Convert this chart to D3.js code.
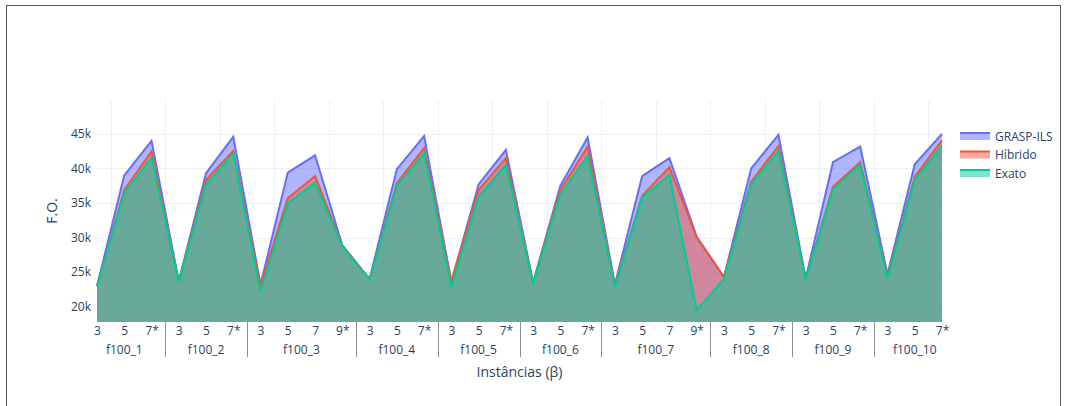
<!DOCTYPE html>
<html>
<head>
<meta charset="utf-8">
<script src="https://cdn.jsdelivr.net/npm/d3@7"></script>
<style>
  body { margin: 0; background: #fff; }
  svg { display: block; font-family: "Open Sans", verdana, arial, sans-serif; }
</style>
</head>
<body>
<svg id="chart" width="1067" height="406"></svg>
<script>
// ---------------- data ----------------
const instanceLabels = [
  "f100_1","f100_1","f100_1",
  "f100_2","f100_2","f100_2",
  "f100_3","f100_3","f100_3","f100_3",
  "f100_4","f100_4","f100_4",
  "f100_5","f100_5","f100_5",
  "f100_6","f100_6","f100_6",
  "f100_7","f100_7","f100_7","f100_7",
  "f100_8","f100_8","f100_8",
  "f100_9","f100_9","f100_9",
  "f100_10","f100_10","f100_10"
];
const betaLabels = [
  "3","5","7*",
  "3","5","7*",
  "3","5","7","9*",
  "3","5","7*",
  "3","5","7*",
  "3","5","7*",
  "3","5","7","9*",
  "3","5","7*",
  "3","5","7*",
  "3","5","7*"
];
const graspIls = [23000, 39000, 44000, 23700, 39300, 44600, 23200, 39400, 41900, 28900,
  24000, 39900, 44700, 23600, 37700, 42700, 23500, 37500, 44500, 23200, 38900, 41500, 30100,
  24300, 40000, 44850, 24100, 40900, 43150, 24700, 40600, 45000];
const hibrido = [23000, 36900, 42450, 23700, 38350, 42550, 23100, 35700, 38900, 28850,
  24000, 37850, 42950, 23650, 36900, 41500, 23500, 36900, 43150, 23100, 36050, 40200, 30050,
  24300, 38100, 43250, 24050, 37350, 40900, 24400, 38800, 44050];
const exato = [22950, 36500, 41550, 23650, 37700, 42200, 22150, 34950, 37950, 28700,
  23950, 37500, 42200, 22900, 35900, 40500, 23450, 36300, 41800, 22800, 35850, 39050, 19500,
  24000, 37750, 42550, 24000, 37000, 40600, 24100, 38450, 43250];
const yTicks = [20000, 25000, 30000, 35000, 40000, 45000];
const seriesNames = ["GRASP-ILS", "Híbrido", "Exato"];
const seriesColors = ["#636efa", "#EF553B", "#00cc96"];

// ---------------- layout ----------------
const svg = d3.select("#chart");
const L = 97, R = 942, T = 100, B = 322;
const n = betaLabels.length;
const textColor = "#2a3f5f";

// outer frame
svg.append("rect").attr("x", 6.5).attr("y", 5.5).attr("width", 1054).attr("height", 420)
  .attr("fill", "none").attr("stroke", "#555").attr("stroke-width", 1);

const x = d3.scaleLinear().domain([0, n - 1]).range([L, R]);
const y = d3.scaleLinear().domain([17790, 49900]).range([B, T]);

// grid
const grid = svg.append("g");
yTicks.forEach(t => {
  grid.append("line").attr("x1", L).attr("x2", R)
    .attr("y1", Math.round(y(t)) + 0.5).attr("y2", Math.round(y(t)) + 0.5)
    .attr("stroke", "#ebf0f8").attr("stroke-width", 1);
});
for (let i = 0.5; i < n - 1; i += 2) {
  grid.append("line").attr("y1", T).attr("y2", B)
    .attr("x1", Math.round(x(i)) + 0.5).attr("x2", Math.round(x(i)) + 0.5)
    .attr("stroke", "#ebf0f8").attr("stroke-width", 1);
}

// series
const allSeries = [graspIls, hibrido, exato];
const area = d3.area().x((d, i) => x(i)).y0(y(y.domain()[0])).y1(d => y(d));
const line = d3.line().x((d, i) => x(i)).y(d => y(d));
allSeries.forEach((s, k) => {
  const g = svg.append("g");
  g.append("path").datum(s).attr("d", area)
    .attr("fill", seriesColors[k]).attr("fill-opacity", 0.5);
  g.append("path").datum(s).attr("d", line)
    .attr("fill", "none").attr("stroke", seriesColors[k]).attr("stroke-width", 2);
});

// y axis
const yAxis = d3.axisLeft(y).tickValues(yTicks).tickSize(0).tickPadding(5)
  .tickFormat(d => (d / 1000) + "k");
const gy = svg.append("g").attr("transform", `translate(${L - 1},0)`).call(yAxis);
gy.select(".domain").remove();
gy.selectAll("text").attr("fill", textColor).style("font-size", "12px")
  .style("font-family", '"Open Sans", verdana, arial, sans-serif');

// x axis (beta)
const xAxis = d3.axisBottom(x).tickValues(d3.range(n)).tickSize(0).tickPadding(4)
  .tickFormat(i => betaLabels[i]);
const gx = svg.append("g").attr("transform", `translate(0,${B})`).call(xAxis);
gx.select(".domain").remove();
gx.selectAll("text").attr("fill", textColor).style("font-size", "12px")
  .style("font-family", '"Open Sans", verdana, arial, sans-serif');

// group labels and dividers
const groups = [];
instanceLabels.forEach((g, i) => {
  if (!groups.length || groups[groups.length - 1].name !== g) groups.push({ name: g, start: i, end: i });
  else groups[groups.length - 1].end = i;
});
groups.forEach((g, gi) => {
  svg.append("text").attr("x", x((g.start + g.end) / 2)).attr("y", 354)
    .attr("text-anchor", "middle").attr("fill", textColor).style("font-size", "12px")
    .text(g.name);
  if (gi > 0) {
    const xd = Math.round(x(g.start - 0.5)) + 0.5;
    svg.append("line").attr("x1", xd).attr("x2", xd).attr("y1", B).attr("y2", 357)
      .attr("stroke", "#8c8c8c").attr("stroke-width", 1);
  }
});

// axis titles
svg.append("text").attr("x", (L + R) / 2).attr("y", 377).attr("text-anchor", "middle")
  .attr("fill", textColor).style("font-size", "14px").text("Instâncias (β)");
svg.append("text").attr("transform", `translate(57,${(T + B) / 2}) rotate(-90)`)
  .attr("text-anchor", "middle").attr("fill", textColor).style("font-size", "14px").text("F.O.");

// legend
const legend = svg.append("g").attr("transform", "translate(960,136)");
seriesNames.forEach((name, k) => {
  const gy0 = k * 18.5;
  const it = legend.append("g").attr("transform", `translate(0,${gy0})`);
  it.append("rect").attr("x", 0).attr("y", -3).attr("width", 30).attr("height", 7)
    .attr("fill", seriesColors[k]).attr("fill-opacity", 0.5);
  it.append("line").attr("x1", 0).attr("x2", 30).attr("y1", -3).attr("y2", -3)
    .attr("stroke", seriesColors[k]).attr("stroke-width", 2);
  it.append("text").attr("x", 35).attr("y", 4.5).attr("fill", textColor)
    .style("font-size", "12px").text(name);
});
</script>
</body>
</html>
